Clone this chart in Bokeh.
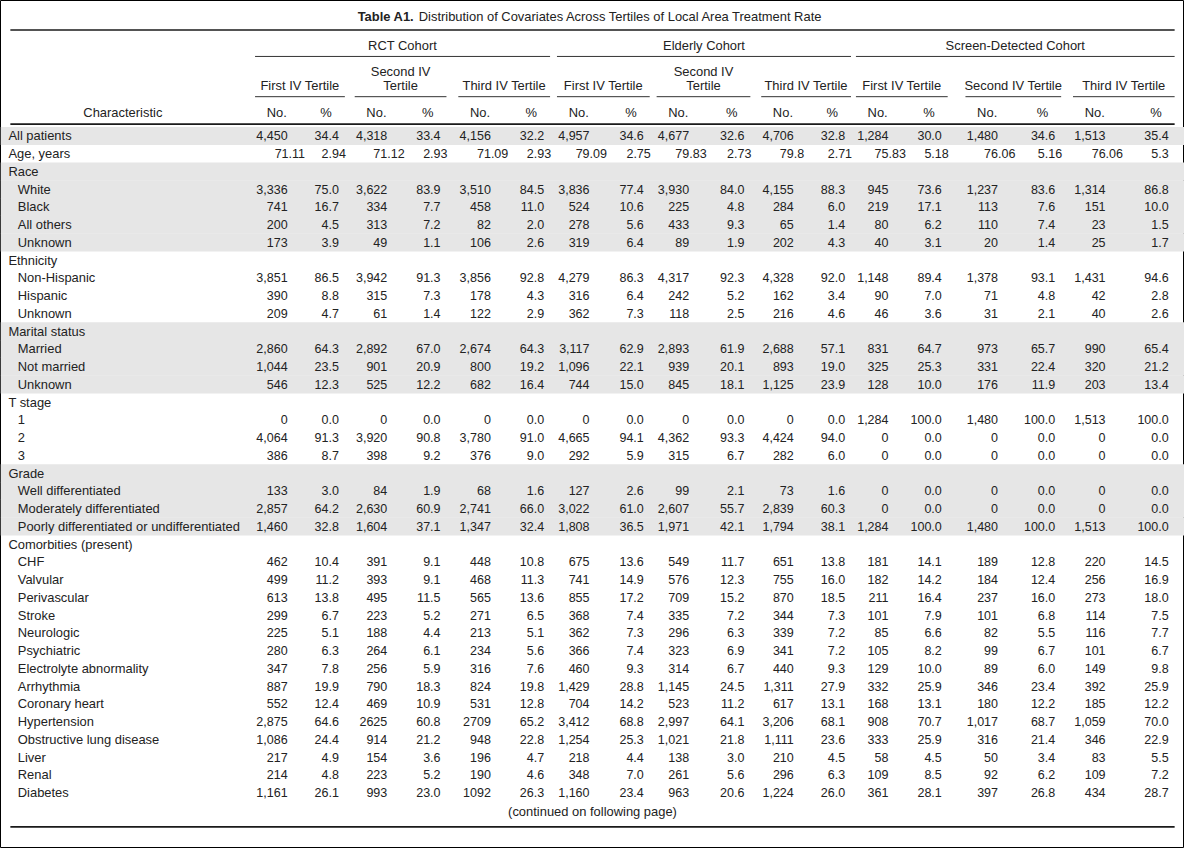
from bokeh.plotting import figure
from bokeh.models import ColumnDataSource, Range1d
from bokeh.core.properties import value
from bokeh.embed import file_html
from bokeh.resources import INLINE

# ---------------- data ----------------
title_bold = "Table A1."
title_rest = "Distribution of Covariates Across Tertiles of Local Area Treatment Rate"
footnote = "(continued on following page)"
cohorts = ["RCT Cohort", "Elderly Cohort", "Screen-Detected Cohort"]
tertiles = [["First IV Tertile"], ["Second IV", "Tertile"], ["Third IV Tertile"],
            ["First IV Tertile"], ["Second IV", "Tertile"], ["Third IV Tertile"],
            ["First IV Tertile"], ["Second IV Tertile"], ["Third IV Tertile"]]
stat_headers = ["No.", "%"]
label_header = "Characteristic"

row_labels = ["All patients", "Age, years", "Race", "White", "Black", "All others", "Unknown",
              "Ethnicity", "Non-Hispanic", "Hispanic", "Unknown",
              "Marital status", "Married", "Not married", "Unknown",
              "T stage", "1", "2", "3",
              "Grade", "Well differentiated", "Moderately differentiated",
              "Poorly differentiated or undifferentiated",
              "Comorbities (present)", "CHF", "Valvular", "Perivascular", "Stroke", "Neurologic",
              "Psychiatric", "Electrolyte abnormality", "Arrhythmia", "Coronary heart",
              "Hypertension", "Obstructive lung disease", "Liver", "Renal", "Diabetes"]
row_level = [0, 0, 0, 1, 1, 1, 1, 0, 1, 1, 1, 0, 1, 1, 1, 0, 1, 1, 1, 0, 1, 1, 1,
             0, 1, 1, 1, 1, 1, 1, 1, 1, 1, 1, 1, 1, 1, 1]
row_shaded = [1, 0, 1, 1, 1, 1, 1, 0, 0, 0, 0, 1, 1, 1, 1, 0, 0, 0, 0, 1, 1, 1, 1,
              0, 0, 0, 0, 0, 0, 0, 0, 0, 0, 0, 0, 0, 0, 0]

rct1_no = ["4,450", "71.11", "", "3,336", "741", "200", "173", "", "3,851", "390", "209", "", "2,860", "1,044", "546", "", "0", "4,064", "386", "", "133", "2,857", "1,460", "", "462", "499", "613", "299", "225", "280", "347", "887", "552", "2,875", "1,086", "217", "214", "1,161"]
rct1_pct = ["34.4", "2.94", "", "75.0", "16.7", "4.5", "3.9", "", "86.5", "8.8", "4.7", "", "64.3", "23.5", "12.3", "", "0.0", "91.3", "8.7", "", "3.0", "64.2", "32.8", "", "10.4", "11.2", "13.8", "6.7", "5.1", "6.3", "7.8", "19.9", "12.4", "64.6", "24.4", "4.9", "4.8", "26.1"]
rct2_no = ["4,318", "71.12", "", "3,622", "334", "313", "49", "", "3,942", "315", "61", "", "2,892", "901", "525", "", "0", "3,920", "398", "", "84", "2,630", "1,604", "", "391", "393", "495", "223", "188", "264", "256", "790", "469", "2625", "914", "154", "223", "993"]
rct2_pct = ["33.4", "2.93", "", "83.9", "7.7", "7.2", "1.1", "", "91.3", "7.3", "1.4", "", "67.0", "20.9", "12.2", "", "0.0", "90.8", "9.2", "", "1.9", "60.9", "37.1", "", "9.1", "9.1", "11.5", "5.2", "4.4", "6.1", "5.9", "18.3", "10.9", "60.8", "21.2", "3.6", "5.2", "23.0"]
rct3_no = ["4,156", "71.09", "", "3,510", "458", "82", "106", "", "3,856", "178", "122", "", "2,674", "800", "682", "", "0", "3,780", "376", "", "68", "2,741", "1,347", "", "448", "468", "565", "271", "213", "234", "316", "824", "531", "2709", "948", "196", "190", "1092"]
rct3_pct = ["32.2", "2.93", "", "84.5", "11.0", "2.0", "2.6", "", "92.8", "4.3", "2.9", "", "64.3", "19.2", "16.4", "", "0.0", "91.0", "9.0", "", "1.6", "66.0", "32.4", "", "10.8", "11.3", "13.6", "6.5", "5.1", "5.6", "7.6", "19.8", "12.8", "65.2", "22.8", "4.7", "4.6", "26.3"]
eld1_no = ["4,957", "79.09", "", "3,836", "524", "278", "319", "", "4,279", "316", "362", "", "3,117", "1,096", "744", "", "0", "4,665", "292", "", "127", "3,022", "1,808", "", "675", "741", "855", "368", "362", "366", "460", "1,429", "704", "3,412", "1,254", "218", "348", "1,160"]
eld1_pct = ["34.6", "2.75", "", "77.4", "10.6", "5.6", "6.4", "", "86.3", "6.4", "7.3", "", "62.9", "22.1", "15.0", "", "0.0", "94.1", "5.9", "", "2.6", "61.0", "36.5", "", "13.6", "14.9", "17.2", "7.4", "7.3", "7.4", "9.3", "28.8", "14.2", "68.8", "25.3", "4.4", "7.0", "23.4"]
eld2_no = ["4,677", "79.83", "", "3,930", "225", "433", "89", "", "4,317", "242", "118", "", "2,893", "939", "845", "", "0", "4,362", "315", "", "99", "2,607", "1,971", "", "549", "576", "709", "335", "296", "323", "314", "1,145", "523", "2,997", "1,021", "138", "261", "963"]
eld2_pct = ["32.6", "2.73", "", "84.0", "4.8", "9.3", "1.9", "", "92.3", "5.2", "2.5", "", "61.9", "20.1", "18.1", "", "0.0", "93.3", "6.7", "", "2.1", "55.7", "42.1", "", "11.7", "12.3", "15.2", "7.2", "6.3", "6.9", "6.7", "24.5", "11.2", "64.1", "21.8", "3.0", "5.6", "20.6"]
eld3_no = ["4,706", "79.8", "", "4,155", "284", "65", "202", "", "4,328", "162", "216", "", "2,688", "893", "1,125", "", "0", "4,424", "282", "", "73", "2,839", "1,794", "", "651", "755", "870", "344", "339", "341", "440", "1,311", "617", "3,206", "1,111", "210", "296", "1,224"]
eld3_pct = ["32.8", "2.71", "", "88.3", "6.0", "1.4", "4.3", "", "92.0", "3.4", "4.6", "", "57.1", "19.0", "23.9", "", "0.0", "94.0", "6.0", "", "1.6", "60.3", "38.1", "", "13.8", "16.0", "18.5", "7.3", "7.2", "7.2", "9.3", "27.9", "13.1", "68.1", "23.6", "4.5", "6.3", "26.0"]
scr1_no = ["1,284", "75.83", "", "945", "219", "80", "40", "", "1,148", "90", "46", "", "831", "325", "128", "", "1,284", "0", "0", "", "0", "0", "1,284", "", "181", "182", "211", "101", "85", "105", "129", "332", "168", "908", "333", "58", "109", "361"]
scr1_pct = ["30.0", "5.18", "", "73.6", "17.1", "6.2", "3.1", "", "89.4", "7.0", "3.6", "", "64.7", "25.3", "10.0", "", "100.0", "0.0", "0.0", "", "0.0", "0.0", "100.0", "", "14.1", "14.2", "16.4", "7.9", "6.6", "8.2", "10.0", "25.9", "13.1", "70.7", "25.9", "4.5", "8.5", "28.1"]
scr2_no = ["1,480", "76.06", "", "1,237", "113", "110", "20", "", "1,378", "71", "31", "", "973", "331", "176", "", "1,480", "0", "0", "", "0", "0", "1,480", "", "189", "184", "237", "101", "82", "99", "89", "346", "180", "1,017", "316", "50", "92", "397"]
scr2_pct = ["34.6", "5.16", "", "83.6", "7.6", "7.4", "1.4", "", "93.1", "4.8", "2.1", "", "65.7", "22.4", "11.9", "", "100.0", "0.0", "0.0", "", "0.0", "0.0", "100.0", "", "12.8", "12.4", "16.0", "6.8", "5.5", "6.7", "6.0", "23.4", "12.2", "68.7", "21.4", "3.4", "6.2", "26.8"]
scr3_no = ["1,513", "76.06", "", "1,314", "151", "23", "25", "", "1,431", "42", "40", "", "990", "320", "203", "", "1,513", "0", "0", "", "0", "0", "1,513", "", "220", "256", "273", "114", "116", "101", "149", "392", "185", "1,059", "346", "83", "109", "434"]
scr3_pct = ["35.4", "5.3", "", "86.8", "10.0", "1.5", "1.7", "", "94.6", "2.8", "2.6", "", "65.4", "21.2", "13.4", "", "100.0", "0.0", "0.0", "", "0.0", "0.0", "100.0", "", "14.5", "16.9", "18.0", "7.5", "7.7", "6.7", "9.8", "25.9", "12.2", "70.0", "22.9", "5.5", "7.2", "28.7"]

columns = [(rct1_no, rct1_pct), (rct2_no, rct2_pct), (rct3_no, rct3_pct),
           (eld1_no, eld1_pct), (eld2_no, eld2_pct), (eld3_no, eld3_pct),
           (scr1_no, scr1_pct), (scr2_no, scr2_pct), (scr3_no, scr3_pct)]

# ---------------- layout (reference pixel units) ----------------
W, H = 1200, 864
SCALE = 1184 / 1200
FS_NUM = 12.7                    # font size of numbers (reference units)
FS_TXT = 13.1                    # font size of words (reference units)
fs_num = value(f"{FS_NUM * SCALE:.2f}px")
fs_txt = value(f"{FS_TXT * SCALE:.2f}px")
font = value("Liberation Sans")
ink = "#222222"

no_right = [291, 392, 497, 597, 698, 804, 900, 1011, 1120]
pct_right = [343, 446, 551, 652, 754, 856, 954, 1069, 1184]
row_y0, row_dy = 138, 18.08
digit_w, period_w = 0.556 * FS_NUM, 0.278 * FS_NUM

p = figure(width=1184, height=848, x_range=Range1d(0, W), y_range=Range1d(H, 0),
           output_backend="svg", toolbar_location=None, min_border=0,
           x_axis_type=None, y_axis_type=None)
p.grid.visible = False
p.outline_line_color = "black"
p.outline_line_width = 1
p.background_fill_color = "white"
p.border_fill_color = "white"

row_y = [row_y0 + i * row_dy for i in range(len(row_labels))]

# shaded bands
sy = [y for y, s in zip(row_y, row_shaded) if s]
p.quad(left=[0] * len(sy), right=[W] * len(sy),
       top=[y - row_dy / 2 for y in sy], bottom=[y + row_dy / 2 + 0.3 for y in sy],
       fill_color="#e6e6e6", line_color=None)

# rules
p.segment(x0=[10, 10, 10], x1=[1190, 1190, 1190], y0=[30, 126, 842], y1=[30, 126, 842],
          line_color="#1a1a1a", line_width=1.6)

# tertile spans
t_start = [n - 33 for n in no_right]
t_end = [q + 6 for q in pct_right]
p.segment(x0=t_start, x1=t_end, y0=[98] * 9, y1=[98] * 9, line_color="#333333", line_width=1)
c_start = [t_start[0], t_start[3], t_start[6]]
c_end = [t_end[2], t_end[5], t_end[8]]
p.segment(x0=c_start, x1=c_end, y0=[57] * 3, y1=[57] * 3, line_color="#333333", line_width=1)

def txt(xs, ys, texts, align="left", bold=False, size=fs_txt):
    src = ColumnDataSource(dict(x=xs, y=ys, t=texts))
    p.text(x="x", y="y", text="t", source=src, text_font=font, text_font_size=size,
           text_color=ink, text_align=align, text_baseline="middle",
           text_font_style="bold" if bold else "normal")

# title
tx = 362
txt([tx], [16], [title_bold], bold=True)
txt([tx + (4.446 + 0.278) * FS_TXT], [16], [title_rest])

# cohort headers
txt([(a + b) / 2 for a, b in zip(c_start, c_end)], [46] * 3, cohorts, align="center")

# tertile headers
hx, hy, ht = [], [], []
for i, lines in enumerate(tertiles):
    cx = (t_start[i] + t_end[i]) / 2
    ys = [87] if len(lines) == 1 else [72, 87]
    for yy, s in zip(ys, lines):
        hx.append(cx); hy.append(yy); ht.append(s)
txt(hx, hy, ht, align="center")

# column headers
txt([124], [114], [label_header], align="center")
txt([n - 15 + 4 for n in no_right] + [q - 13 for q in pct_right], [114] * 18,
    [stat_headers[0]] * 9 + [stat_headers[1]] * 9, align="center")

# row labels
txt([8 + 9.5 * lv for lv in row_level], row_y, row_labels)

# numbers, decimal aligned
def dec_offset(s, default_dec):
    d = len(s.split(".")[1]) if "." in s else 0
    off = (d - default_dec) * digit_w
    if default_dec == 0 and d > 0:
        off += period_w
    return off

nx, ny, nt = [], [], []
for i, (nos, pcts) in enumerate(columns):
    for r, (a, b) in enumerate(zip(nos, pcts)):
        if a:
            nx.append(no_right[i] + dec_offset(a, 0)); ny.append(row_y[r]); nt.append(a)
        if b:
            nx.append(pct_right[i] + dec_offset(b, 1)); ny.append(row_y[r]); nt.append(b)
txt(nx, ny, nt, align="right", size=fs_num)

# footnote
txt([600], [826], [footnote], align="center")

open("out.html", "w").write(file_html(p, INLINE))
